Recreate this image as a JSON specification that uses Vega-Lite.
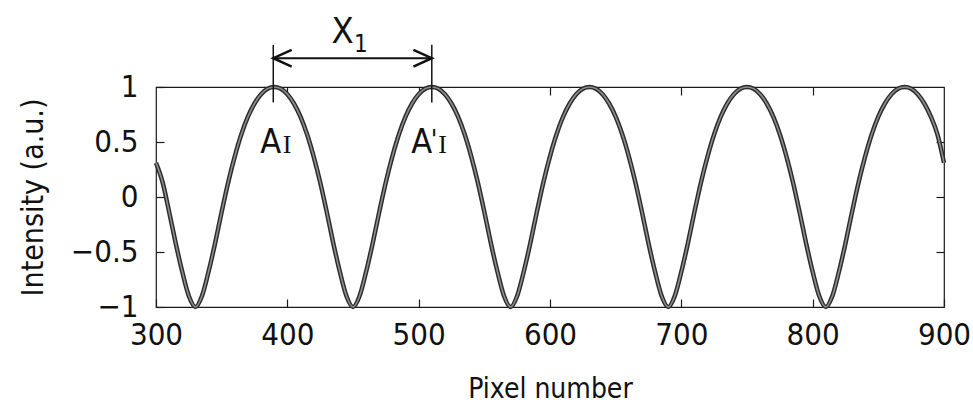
{
  "$schema": "https://vega.github.io/schema/vega-lite/v6.json",
  "width": 788,
  "height": 220,
  "autosize": {"type": "none"},
  "padding": {"left": 156, "top": 87, "right": 29, "bottom": 104},
  "background": "white",
  "config": {
    "view": {"stroke": "#1a1a1a", "strokeWidth": 1.2},
    "font": "DejaVu Sans Condensed, sans-serif"
  },
  "datasets": {
    "curve": [
      {"x":300,"y":0.31},{"x":305,"y":0.135},{"x":310,"y":-0.135},{"x":315,"y":-0.42},{"x":320,"y":-0.68},{"x":325,"y":-0.9},{"x":330,"y":-1},{"x":335,"y":-0.9},{"x":340,"y":-0.68},{"x":345,"y":-0.42},{"x":350,"y":-0.135},{"x":355,"y":0.135},{"x":360,"y":0.37},{"x":365,"y":0.57},{"x":370,"y":0.73},{"x":375,"y":0.85},{"x":380,"y":0.935},{"x":385,"y":0.985},{"x":390,"y":1},
      {"x":395,"y":0.985},{"x":400,"y":0.935},{"x":405,"y":0.85},{"x":410,"y":0.73},{"x":415,"y":0.57},{"x":420,"y":0.37},{"x":425,"y":0.135},{"x":430,"y":-0.135},{"x":435,"y":-0.42},{"x":440,"y":-0.68},{"x":445,"y":-0.9},{"x":450,"y":-1},{"x":455,"y":-0.9},{"x":460,"y":-0.68},{"x":465,"y":-0.42},{"x":470,"y":-0.135},{"x":475,"y":0.135},{"x":480,"y":0.37},{"x":485,"y":0.57},{"x":490,"y":0.73},{"x":495,"y":0.85},{"x":500,"y":0.935},{"x":505,"y":0.985},{"x":510,"y":1},
      {"x":515,"y":0.985},{"x":520,"y":0.935},{"x":525,"y":0.85},{"x":530,"y":0.73},{"x":535,"y":0.57},{"x":540,"y":0.37},{"x":545,"y":0.135},{"x":550,"y":-0.135},{"x":555,"y":-0.42},{"x":560,"y":-0.68},{"x":565,"y":-0.9},{"x":570,"y":-1},{"x":575,"y":-0.9},{"x":580,"y":-0.68},{"x":585,"y":-0.42},{"x":590,"y":-0.135},{"x":595,"y":0.135},{"x":600,"y":0.37},{"x":605,"y":0.57},{"x":610,"y":0.73},{"x":615,"y":0.85},{"x":620,"y":0.935},{"x":625,"y":0.985},{"x":630,"y":1},
      {"x":635,"y":0.985},{"x":640,"y":0.935},{"x":645,"y":0.85},{"x":650,"y":0.73},{"x":655,"y":0.57},{"x":660,"y":0.37},{"x":665,"y":0.135},{"x":670,"y":-0.135},{"x":675,"y":-0.42},{"x":680,"y":-0.68},{"x":685,"y":-0.9},{"x":690,"y":-1},{"x":695,"y":-0.9},{"x":700,"y":-0.68},{"x":705,"y":-0.42},{"x":710,"y":-0.135},{"x":715,"y":0.135},{"x":720,"y":0.37},{"x":725,"y":0.57},{"x":730,"y":0.73},{"x":735,"y":0.85},{"x":740,"y":0.935},{"x":745,"y":0.985},{"x":750,"y":1},
      {"x":755,"y":0.985},{"x":760,"y":0.935},{"x":765,"y":0.85},{"x":770,"y":0.73},{"x":775,"y":0.57},{"x":780,"y":0.37},{"x":785,"y":0.135},{"x":790,"y":-0.135},{"x":795,"y":-0.42},{"x":800,"y":-0.68},{"x":805,"y":-0.9},{"x":810,"y":-1},{"x":815,"y":-0.9},{"x":820,"y":-0.68},{"x":825,"y":-0.42},{"x":830,"y":-0.135},{"x":835,"y":0.135},{"x":840,"y":0.37},{"x":845,"y":0.57},{"x":850,"y":0.73},{"x":855,"y":0.85},{"x":860,"y":0.935},{"x":865,"y":0.985},{"x":870,"y":1},
      {"x":875,"y":0.985},{"x":880,"y":0.935},{"x":885,"y":0.85},{"x":890,"y":0.73},{"x":895,"y":0.57},{"x":900,"y":0.31}
    ],
    "vlines": [
      {"x": 389.3, "y": 0.86, "y2": 1.383},
      {"x": 510, "y": 0.86, "y2": 1.383}
    ],
    "hline": [
      {"x": 389.3, "x2": 510, "y": 1.262}
    ],
    "heads": [
      {"g": "L", "o": 1, "x": 403.3, "y": 1.338},
      {"g": "L", "o": 2, "x": 389.3, "y": 1.262},
      {"g": "L", "o": 3, "x": 403.3, "y": 1.186},
      {"g": "R", "o": 1, "x": 496, "y": 1.338},
      {"g": "R", "o": 2, "x": 510, "y": 1.262},
      {"g": "R", "o": 3, "x": 496, "y": 1.186}
    ],
    "bigX": [{"t": "X", "x": 442, "y": 1.404}],
    "sub1": [{"t": "1", "x": 456, "y": 1.322}],
    "letterA": [
      {"t": "A", "x": 387.4, "y": 0.403},
      {"t": "A", "x": 502.3, "y": 0.403}
    ],
    "subI": [
      {"t": "I", "x": 399.8, "y": 0.403},
      {"t": "I", "x": 518.2, "y": 0.403}
    ],
    "prime": [{"t": "'", "x": 511.8, "y": 0.44}]
  },
  "resolve": {"axis": {"x": "independent", "y": "independent"}},
  "layer": [
    {
      "data": {"name": "curve"},
      "mark": {"type": "line", "interpolate": "monotone", "color": "#2b2b2b", "strokeWidth": 4.5},
      "encoding": {
        "x": {
          "field": "x", "type": "quantitative",
          "scale": {"domain": [300, 900], "nice": false, "zero": false},
          "axis": {
            "orient": "bottom", "values": [300, 400, 500, 600, 700, 800, 900], "format": "d",
            "domain": false, "grid": false, "tickSize": -8, "tickColor": "#1a1a1a", "tickWidth": 1.2,
            "labelFontSize": 31, "labelColor": "#111111", "labelPadding": 21,
            "labelFont": "DejaVu Sans Condensed, sans-serif",
            "labelFlush": false, "labelOverlap": false,
            "title": "Pixel number", "titleFontSize": 28, "titleFontWeight": "normal",
            "titleColor": "#111111", "titlePadding": 25,
            "titleFont": "DejaVu Sans Condensed, sans-serif"
          }
        },
        "y": {
          "field": "y", "type": "quantitative",
          "scale": {"domain": [-1, 1], "nice": false, "zero": false},
          "axis": {
            "orient": "left", "values": [-1, -0.5, 0, 0.5, 1], "format": "~g",
            "domain": false, "grid": false, "tickSize": -8, "tickColor": "#1a1a1a", "tickWidth": 1.2,
            "labelFontSize": 31, "labelColor": "#111111", "labelPadding": 26,
            "labelFont": "DejaVu Sans Condensed, sans-serif",
            "labelFlush": false, "labelOverlap": false,
            "title": "Intensity (a.u.)", "titleFontSize": 30, "titleFontWeight": "normal",
            "titleColor": "#111111", "titlePadding": 22,
            "titleFont": "DejaVu Sans Condensed, sans-serif"
          }
        }
      }
    },
    {
      "data": {"name": "curve"},
      "mark": {"type": "line", "interpolate": "monotone", "color": "#8e8e8e", "strokeWidth": 1.6},
      "encoding": {
        "x": {
          "field": "x", "type": "quantitative",
          "axis": {"orient": "top", "values": [400, 500, 600, 700, 800], "labels": false, "domain": false, "grid": false, "tickSize": -8, "tickColor": "#1a1a1a", "tickWidth": 1.2, "title": null}
        },
        "y": {
          "field": "y", "type": "quantitative",
          "axis": {"orient": "right", "values": [-0.5, 0, 0.5], "labels": false, "domain": false, "grid": false, "tickSize": -8, "tickColor": "#1a1a1a", "tickWidth": 1.2, "title": null}
        }
      }
    },
    {
      "data": {"name": "vlines"},
      "mark": {"type": "rule", "color": "#111111", "strokeWidth": 1.5},
      "encoding": {
        "x": {"field": "x", "type": "quantitative", "axis": null},
        "y": {"field": "y", "type": "quantitative", "axis": null},
        "y2": {"field": "y2"}
      }
    },
    {
      "data": {"name": "hline"},
      "mark": {"type": "rule", "color": "#111111", "strokeWidth": 2},
      "encoding": {
        "x": {"field": "x", "type": "quantitative", "axis": null},
        "x2": {"field": "x2"},
        "y": {"field": "y", "type": "quantitative", "axis": null}
      }
    },
    {
      "data": {"name": "heads"},
      "mark": {"type": "line", "color": "#111111", "strokeWidth": 2.5},
      "encoding": {
        "x": {"field": "x", "type": "quantitative", "axis": null},
        "y": {"field": "y", "type": "quantitative", "axis": null},
        "detail": {"field": "g"},
        "order": {"field": "o"}
      }
    },
    {
      "data": {"name": "bigX"},
      "mark": {"type": "text", "fontSize": 36, "align": "center", "baseline": "alphabetic", "color": "#111111", "font": "DejaVu Sans Condensed, sans-serif"},
      "encoding": {
        "x": {"field": "x", "type": "quantitative", "axis": null},
        "y": {"field": "y", "type": "quantitative", "axis": null},
        "text": {"field": "t"}
      }
    },
    {
      "data": {"name": "sub1"},
      "mark": {"type": "text", "fontSize": 24, "align": "center", "baseline": "alphabetic", "color": "#111111", "font": "DejaVu Sans Condensed, sans-serif"},
      "encoding": {
        "x": {"field": "x", "type": "quantitative", "axis": null},
        "y": {"field": "y", "type": "quantitative", "axis": null},
        "text": {"field": "t"}
      }
    },
    {
      "data": {"name": "letterA"},
      "mark": {"type": "text", "fontSize": 34, "align": "center", "baseline": "alphabetic", "color": "#111111", "font": "DejaVu Sans Condensed, sans-serif"},
      "encoding": {
        "x": {"field": "x", "type": "quantitative", "axis": null},
        "y": {"field": "y", "type": "quantitative", "axis": null},
        "text": {"field": "t"}
      }
    },
    {
      "data": {"name": "subI"},
      "mark": {"type": "text", "fontSize": 26, "align": "center", "baseline": "alphabetic", "color": "#111111", "font": "Liberation Serif, DejaVu Serif, serif"},
      "encoding": {
        "x": {"field": "x", "type": "quantitative", "axis": null},
        "y": {"field": "y", "type": "quantitative", "axis": null},
        "text": {"field": "t"}
      }
    },
    {
      "data": {"name": "prime"},
      "mark": {"type": "text", "fontSize": 27, "align": "center", "baseline": "alphabetic", "color": "#111111", "font": "DejaVu Sans Condensed, sans-serif"},
      "encoding": {
        "x": {"field": "x", "type": "quantitative", "axis": null},
        "y": {"field": "y", "type": "quantitative", "axis": null},
        "text": {"field": "t"}
      }
    }
  ]
}
